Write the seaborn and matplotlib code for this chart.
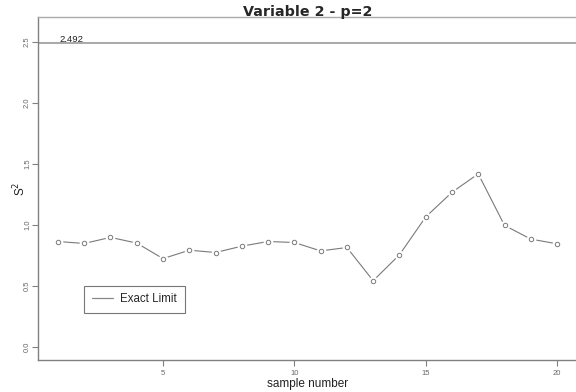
import matplotlib
matplotlib.use("Agg")
import matplotlib.pyplot as plt
import seaborn as sns
import pandas as pd
from matplotlib.lines import Line2D

# data
sample_number = list(range(1, 21))
s2_values = [0.866, 0.850, 0.900, 0.853, 0.726, 0.795, 0.776, 0.828, 0.866, 0.858,
             0.789, 0.817, 0.545, 0.757, 1.067, 1.269, 1.420, 0.998, 0.886, 0.847]
exact_limit = 2.492
limit_label = "2.492"
x_ticks = [5, 10, 15, 20]
y_ticks = [0.0, 0.5, 1.0, 1.5, 2.0, 2.5]
y_tick_labels = ["0.0", "0.5", "1.0", "1.5", "2.0", "2.5"]

sns.set_style("white")
plt.rcParams["font.family"] = ["Liberation Sans", "DejaVu Sans"]

df = pd.DataFrame({"sample": sample_number, "s2": s2_values})

fig = plt.figure(figsize=(5.76, 3.92), dpi=100)
ax = fig.add_axes([38 / 576, 1 - 360 / 392, 539 / 576, 343 / 392])

gray = "#808080"
line_gray = "#7a7a7a"

sns.lineplot(data=df, x="sample", y="s2", ax=ax, color=line_gray, linewidth=0.8,
             zorder=2)
# gaps around the points (R type="b")
ax.plot(df["sample"], df["s2"], linestyle="none", marker="o", markersize=6,
        markerfacecolor="white", markeredgecolor="white", zorder=3)
ax.plot(df["sample"], df["s2"], linestyle="none", marker="o", markersize=3.2,
        markerfacecolor="white", markeredgecolor=line_gray, markeredgewidth=0.7,
        zorder=4)

ax.axhline(exact_limit, color="#999999", linewidth=1.2, zorder=1)
ax.annotate(limit_label, xy=(1.06, exact_limit), xytext=(0, -1.0),
            textcoords="offset points", ha="left", va="bottom",
            fontsize=6.8, color="#222222")

ax.set_xlim(0.24, 20.76)
ax.set_ylim(-0.104, 2.704)
ax.set_xticks(x_ticks)
ax.set_xticklabels([str(t) for t in x_ticks])
ax.set_yticks(y_ticks)
ax.set_yticklabels(y_tick_labels, rotation=90, va="center")

for side in ["left", "bottom", "top", "right"]:
    ax.spines[side].set_visible(True)
    ax.spines[side].set_color(gray)
    ax.spines[side].set_linewidth(1.0)
ax.spines["top"].set_color("#aaaaaa")

ax.tick_params(axis="both", which="major", direction="out", length=4, width=0.8,
               color=gray, labelsize=5.5, labelcolor="#666666",
               bottom=True, left=True, top=False, right=False)
ax.tick_params(axis="x", pad=3.5)
ax.tick_params(axis="y", pad=1)

ax.set_xlabel("sample number", fontsize=8.5, color="#222222", labelpad=0.5)
ax.set_ylabel("S$^2$", fontsize=8.5, color="#222222")
ax.yaxis.set_label_coords(-0.0185, 0.5)
ax.set_title("Variable 2 - p=2", fontsize=10.3, fontweight="bold", pad=1.0,
             family=["DejaVu Sans"])

handle = Line2D([], [], color="#888888", linewidth=0.9)
leg = ax.legend([handle], ["Exact Limit"], loc="lower left",
                bbox_to_anchor=(0.0853, 0.137), borderaxespad=0,
                fontsize=8.3, frameon=True, fancybox=False,
                edgecolor="#555555", handlelength=1.83, handletextpad=0.66,
                borderpad=0.67)
leg.get_frame().set_linewidth(0.8)

fig.savefig("out.png", dpi=100, facecolor="white")
